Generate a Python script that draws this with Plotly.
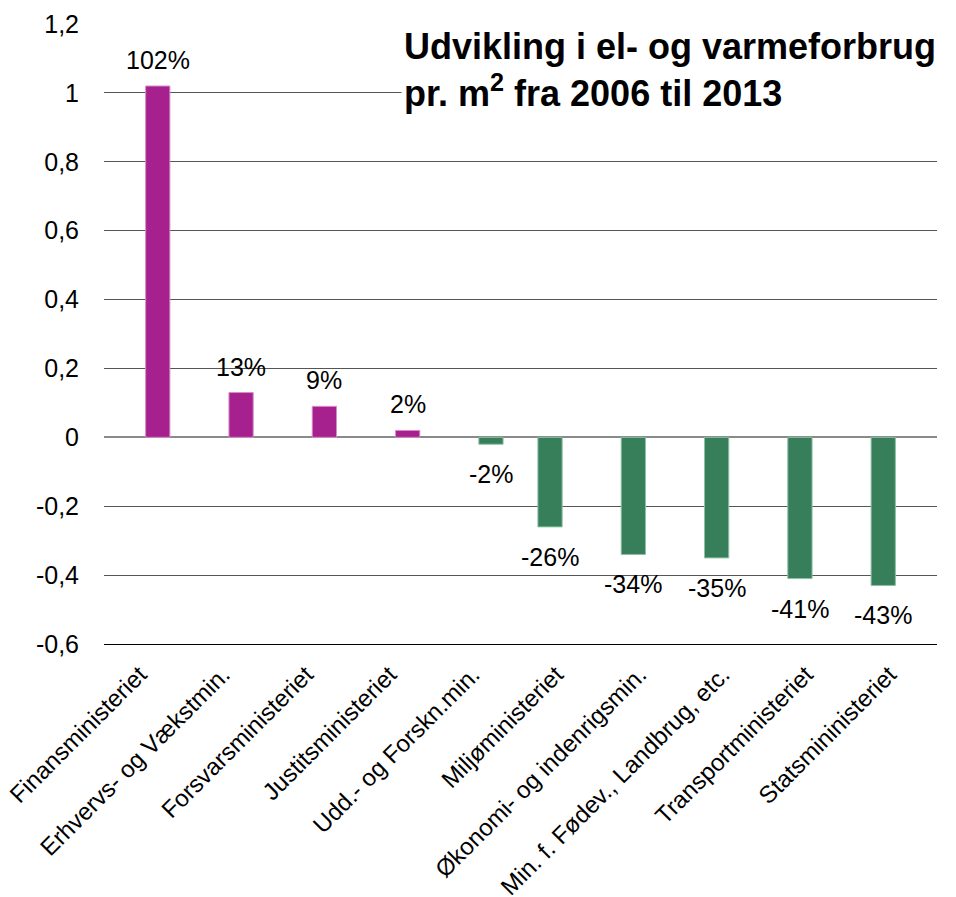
import plotly.graph_objects as go

categories = ["Finansministeriet", "Erhvervs- og Vækstmin.", "Forsvarsministeriet",
              "Justitsministeriet", "Udd.- og Forskn.min.", "Miljøministeriet",
              "Økonomi- og indenrigsmin.", "Min. f. Fødev., Landbrug, etc.",
              "Transportministeriet", "Statsmininisteriet"]
increase_values = [1.02, 0.13, 0.09, 0.02, -0.02, None, None, None, None, None]
decrease_values = [None, None, None, None, None, -0.26, -0.34, -0.35, -0.41, -0.43]
value_labels = ["102%", "13%", "9%", "2%", "-2%", "-26%", "-34%", "-35%", "-41%", "-43%"]
y_tickvals = [-0.6, -0.4, -0.2, 0, 0.2, 0.4, 0.6, 0.8, 1.0, 1.2]
y_ticktext = ["-0,6", "-0,4", "-0,2", "0", "0,2", "0,4", "0,6", "0,8", "1", "1,2"]

MAGENTA = "#A6218D"
GREEN = "#377E5A"
FONT = "Arial, Liberation Sans, sans-serif"

inc_colors = [MAGENTA if (v is not None and v > 0) else GREEN for v in increase_values]
inc_lines = ["#D58CC8" if (v is not None and v > 0) else "#8CBFA3" for v in increase_values]

fig = go.Figure()
fig.add_trace(go.Bar(x=categories, y=decrease_values, marker=dict(color=GREEN, line=dict(color="#8CBFA3", width=1)),
                     showlegend=False, hoverinfo="skip"))
fig.add_trace(go.Bar(x=categories, y=increase_values, marker=dict(color=inc_colors, line=dict(color=inc_lines, width=1)),
                     showlegend=False, hoverinfo="skip"))

annotations = []
for cat, inc, dec, lab in zip(categories, increase_values, decrease_values, value_labels):
    if inc is not None:
        v, xs = inc, 12
    else:
        v, xs = dec, -12
    annotations.append(dict(x=cat, y=v, xref="x", yref="y", text=lab, showarrow=False,
                            xshift=xs, yshift=(26 if v > 0 else -30), yanchor="middle",
                            font=dict(family=FONT, size=25, color="black")))

annotations.append(dict(xref="paper", yref="paper", x=0.68, y=0.925, xanchor="center", yanchor="middle",
                        align="left", showarrow=False, bgcolor="white", borderpad=2,
                        text="<b>Udvikling i el- og varmeforbrug<br>pr. m<sup>2</sup> fra 2006 til 2013</b>",
                        font=dict(family=FONT, size=36, color="black")))

fig.update_layout(
    width=948, height=889,
    margin=dict(l=96, r=19, t=16, b=253, pad=0, autoexpand=False),
    paper_bgcolor="white", plot_bgcolor="white",
    barmode="group", bargap=0.418, bargroupgap=0,
    annotations=annotations,
    font=dict(family=FONT, color="black"),
    showlegend=False,
)
fig.update_yaxes(range=[-0.6, 1.2], tickvals=y_tickvals, ticktext=y_ticktext, automargin=False,
                 showgrid=True, gridcolor="#555555", gridwidth=1,
                 zeroline=True, zerolinecolor="#8A8A8A", zerolinewidth=2,
                 ticks="", ticklabelstandoff=24,
                 tickfont=dict(family=FONT, size=25, color="black"))
fig.update_xaxes(tickangle=-45, showline=True, linecolor="black", linewidth=1, automargin=False,
                 ticks="", ticklabelstandoff=6, ticklabelshift=-6, showgrid=False,
                 tickfont=dict(family=FONT, size=24, color="black"))

fig.write_html("out.html")
